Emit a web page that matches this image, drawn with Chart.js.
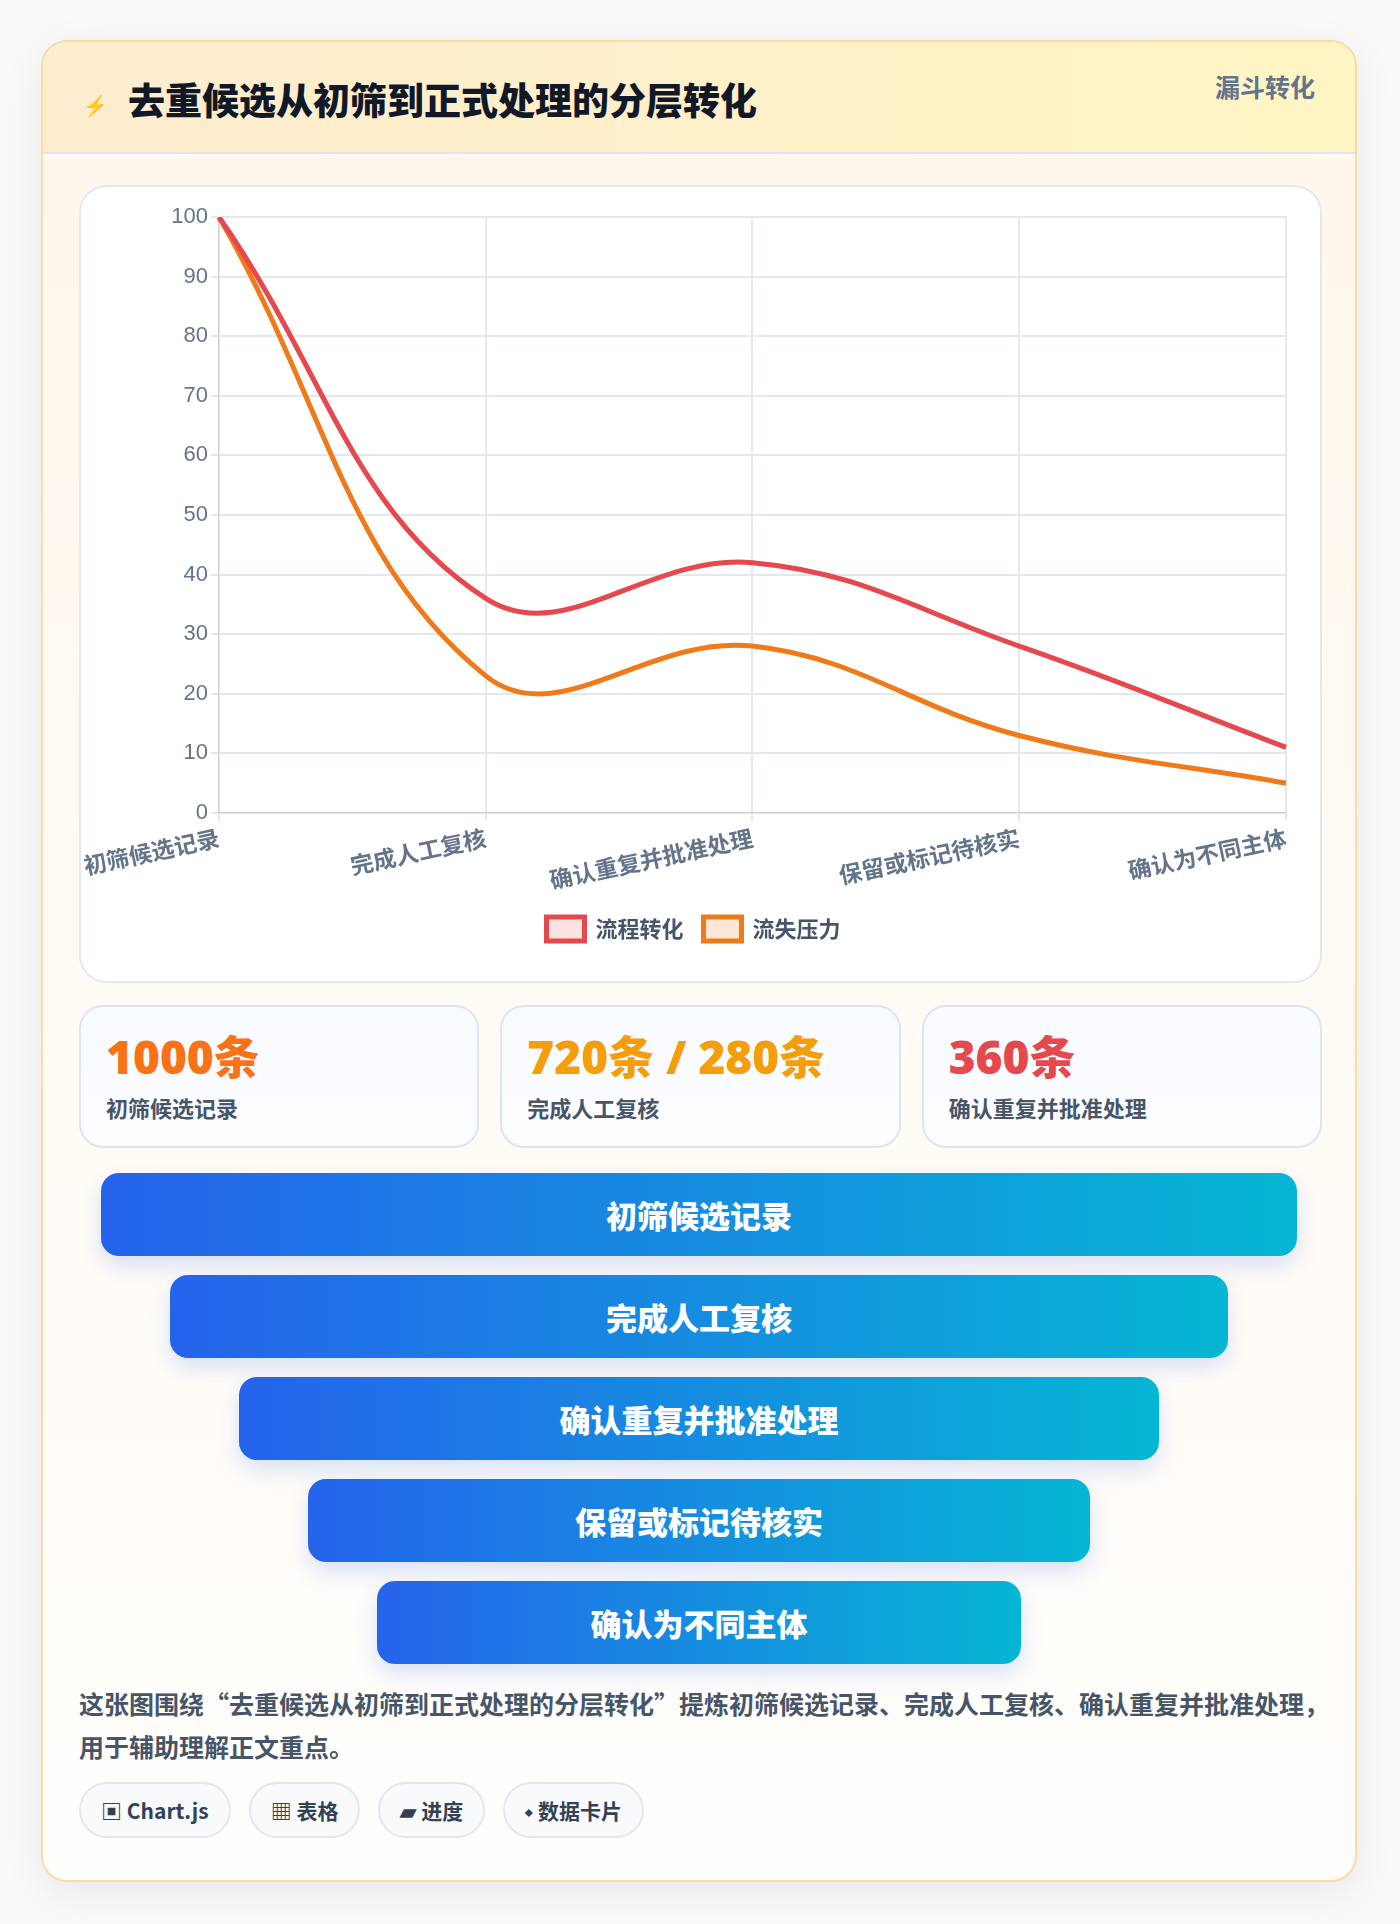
<!DOCTYPE html>
<html><head><meta charset="utf-8">
<script src="https://cdn.jsdelivr.net/npm/chart.js@4/dist/chart.umd.min.js"></script>
<style>
body{margin:0;background:#fafafa;font-family:"Noto Sans CJK SC","Noto Sans",sans-serif;}
.card{position:absolute;left:41px;top:40px;width:1316px;height:1842px;border:2px solid #fbd9a8;border-radius:26px;background:linear-gradient(#fff7ec,#fffefc);box-shadow:0 10px 40px rgba(0,0,0,.08);overflow:hidden;box-sizing:border-box}
.head{height:110px;background:linear-gradient(90deg,#feeccf,#fef5c4);border-bottom:2px solid #dbe6f0;position:relative}
.head h1{position:absolute;left:40px;top:30px;margin:0;font-size:37px;font-weight:900;color:#111827}
.head h1 span{color:#2563eb;font-size:20px;margin-right:20px;vertical-align:middle}
.head .tag{position:absolute;right:40px;top:26px;font-size:25px;font-weight:700;color:#64748b}
.box{position:absolute;left:36px;top:143px;width:1243px;height:798px;background:#fff;border:2px solid #e2e8f0;border-radius:28px;box-sizing:border-box}
.stats{position:absolute;left:36px;top:963px;width:1243px;display:flex;gap:21px}
.stat{flex:1;height:143px;border:2px solid #dbe6f5;border-radius:24px;background:linear-gradient(#f8fbff,#fcfdff);box-sizing:border-box;padding:20px 25px}
.stat b{display:block;font-family:"Open Sans","Noto Sans CJK SC";font-size:46px;font-weight:800;line-height:58px}
.stat i{display:block;font-style:normal;font-size:22px;font-weight:700;color:#475569;margin-top:6px}
.funnel{position:absolute;left:0;top:1131px;width:100%}
.bar{height:83px;border-radius:18px;margin:0 auto 19px;background:linear-gradient(90deg,#2563eb,#06b6d4);color:#fff;font-size:31px;font-weight:800;display:flex;align-items:center;justify-content:center;box-shadow:0 10px 22px rgba(37,99,235,.18)}
.desc{position:absolute;left:36px;top:1640px;width:1250px;font-size:25px;font-weight:700;color:#475569;line-height:43px}
.chips{position:absolute;left:36px;top:1740px;display:flex;gap:18px}
.chip{height:56px;border:2px solid #e2e8f0;border-radius:28px;background:#f8fafc;padding:0 20px;display:flex;align-items:center;font-size:21px;font-weight:700;color:#334155;box-sizing:border-box}
</style></head><body>
<div class="card">
 <div class="head"><h1><span>⚡</span>去重候选从初筛到正式处理的分层转化</h1><div class="tag">漏斗转化</div></div>
 <div class="box"><canvas id="c" width="1239" height="794"></canvas></div>
 <div class="stats" id="stats"></div>
 <div class="funnel" id="funnel"></div>
 <div class="desc">这张图围绕“去重候选从初筛到正式处理的分层转化”提炼初筛候选记录、完成人工复核、确认重复并批准处理，用于辅助理解正文重点。</div>
 <div class="chips"><div class="chip">▣ Chart.js</div><div class="chip">▦ 表格</div><div class="chip">▰ 进度</div><div class="chip">⬩ 数据卡片</div></div>
</div>
<script>
const categories = ['初筛候选记录','完成人工复核','确认重复并批准处理','保留或标记待核实','确认为不同主体']
const flowValues = [100, 36, 42, 28, 11]
const lossValues = [100, 23, 28, 13, 5]
const statValues = ['1000条','720条 / 280条','360条']
const statColors = ['#f97316','#f59e0b','#e5484d']

statValues.forEach((v, i) => {
    const d = document.createElement('div')
    d.className = 'stat'
    d.innerHTML = '<b style="color:' + statColors[i] + '">' + v + '</b><i>' + categories[i] + '</i>'
    document.getElementById('stats').appendChild(d)
})
categories.forEach((c, i) => {
    const d = document.createElement('div')
    d.className = 'bar'
    d.style.width = (1196 - i * 138) + 'px'
    d.innerText = c
    document.getElementById('funnel').appendChild(d)
})

new Chart(document.getElementById('c'), {
    type: 'line',
    data: {
        labels: categories,
        datasets: [
            {label: '流程转化', data: flowValues, borderColor: '#e5484d', backgroundColor: '#fde2e2', borderWidth: 5, tension: 0.4, pointRadius: 0},
            {label: '流失压力', data: lossValues, borderColor: '#f07a1a', backgroundColor: '#fde8d8', borderWidth: 5, tension: 0.4, pointRadius: 0}
        ]
    },
    options: {
        responsive: false,
        animation: false,
        layout: {padding: {left: 20, right: 34, top: 30, bottom: 30}},
        scales: {
            x: {grid: {color: '#e2e8f0', lineWidth: 2}, ticks: {color: '#64748b', maxRotation: 12, minRotation: 12, font: {size: 23, weight: 'bold', family: 'Noto Sans CJK SC'}}},
            y: {min: 0, max: 100, grid: {color: '#e2e8f0', lineWidth: 2}, ticks: {stepSize: 10, color: '#64748b', font: {size: 22, family: 'Liberation Sans'}}}
        },
        plugins: {
            legend: {position: 'bottom', labels: {boxWidth: 38, boxHeight: 24, padding: 20, color: '#475569', font: {size: 22, weight: 'bold', family: 'Noto Sans CJK SC'}}}
        }
    }
})
</script>
</body></html>
